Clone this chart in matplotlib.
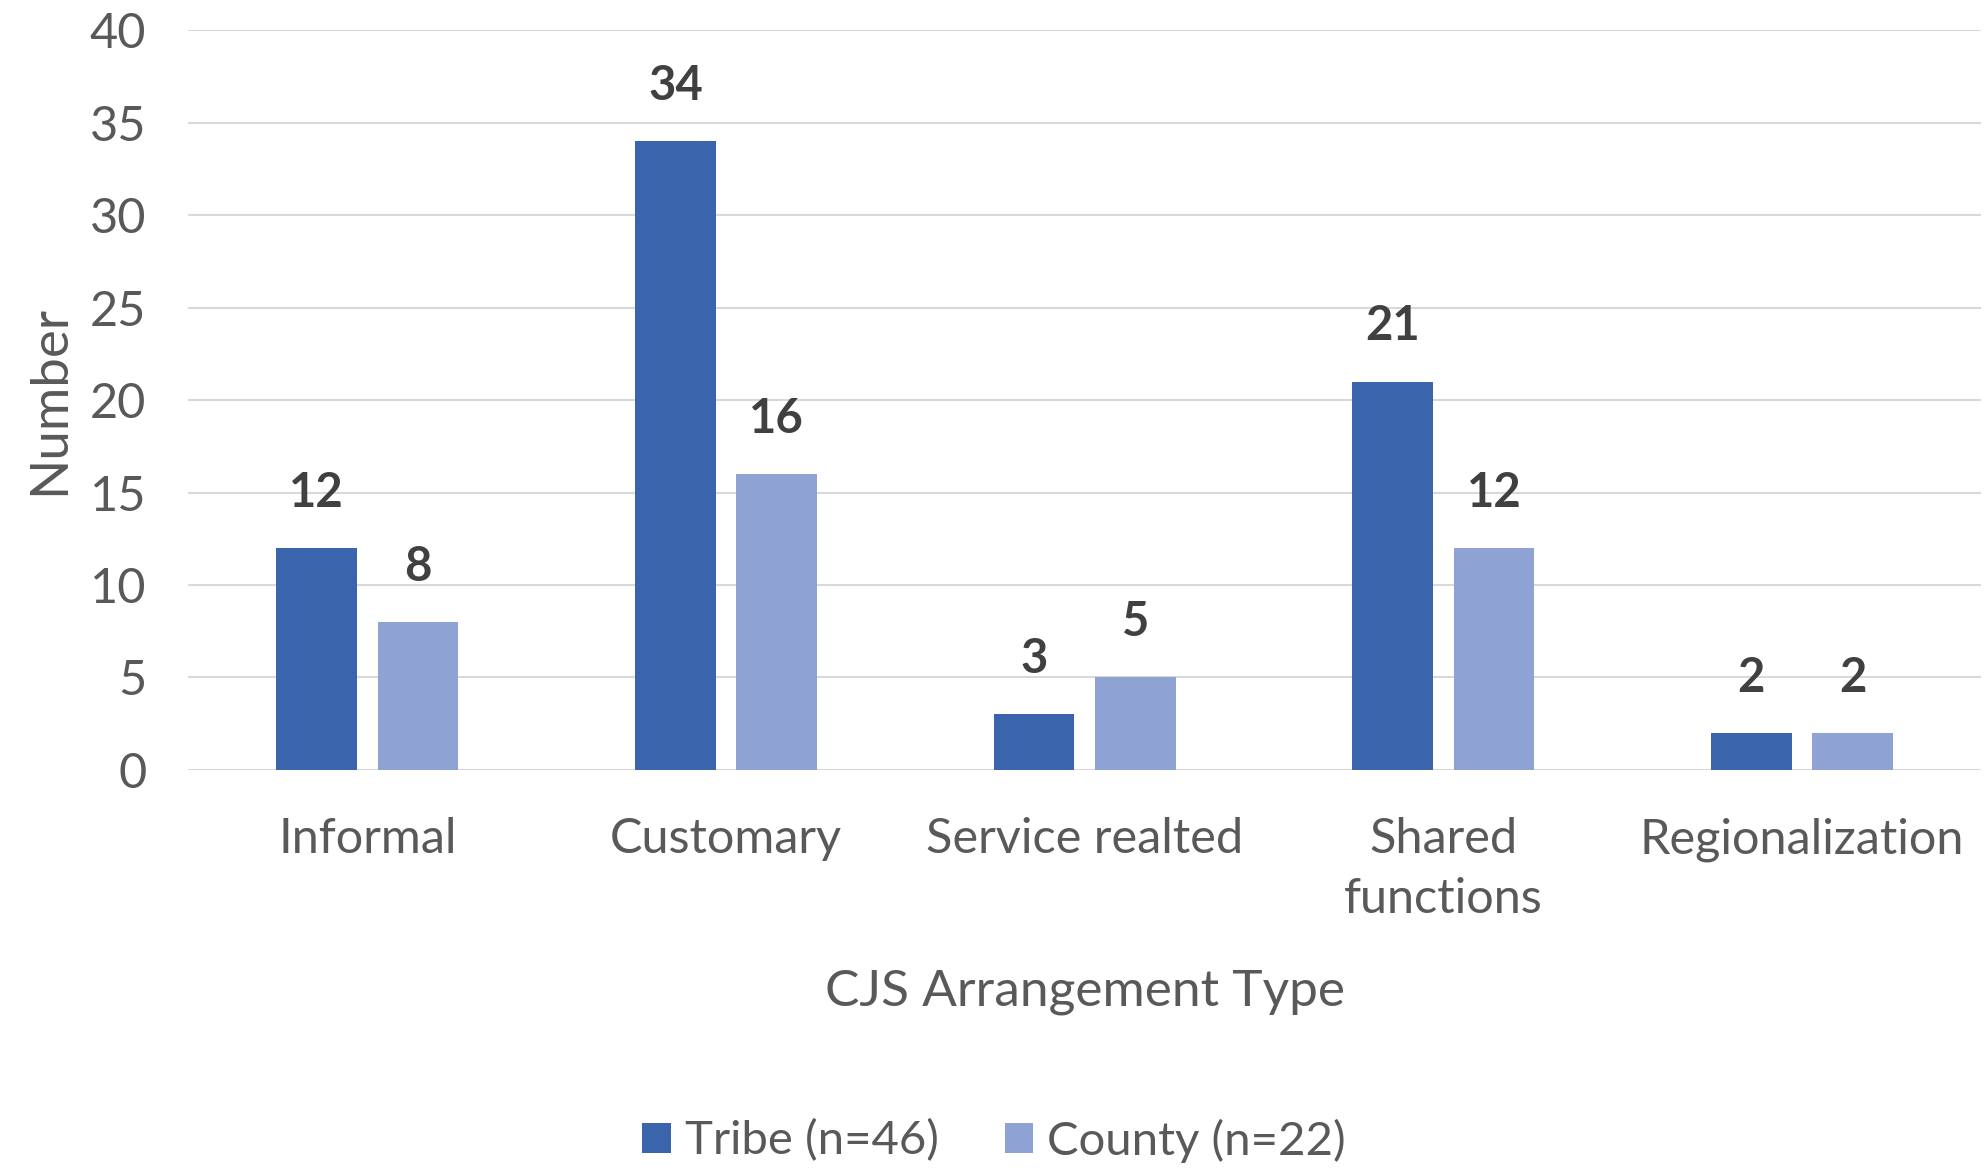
import matplotlib.pyplot as plt
import numpy as np

plt.rcParams['font.family'] = ['Lato', 'DejaVu Sans']

categories = ['Informal', 'Customary', 'Service realted', 'Shared\nfunctions', 'Regionalization']
tribe = [12, 34, 3, 21, 2]
county = [8, 16, 5, 12, 2]
series_names = ['Tribe (n=46)', 'County (n=22)']
yticks = [0, 5, 10, 15, 20, 25, 30, 35, 40]

TRIBE_C = '#3A64AC'
COUNTY_C = '#8FA2D4'
TXT = '#595959'

fig = plt.figure(figsize=(19.88, 11.7), dpi=100)
ax = fig.add_axes([0.0946, 0.342, 0.902, 0.632])

x = np.arange(len(categories))
w = 0.225
off = 0.141
b1 = ax.bar(x - off, tribe, w, color=TRIBE_C, label=series_names[0], zorder=3)
b2 = ax.bar(x + off, county, w, color=COUNTY_C, label=series_names[1], zorder=3)

for bars in (b1, b2):
    ax.bar_label(bars, padding=24, fontsize=34, fontweight='bold', color='#404040')

ax.set_xlim(-0.5, len(categories) - 0.5)
ax.set_ylim(0, 40)
ax.set_yticks(yticks)
ax.grid(axis='y', color='#D9D9D9', linewidth=1.5, zorder=0)
for s in ax.spines.values():
    s.set_visible(False)
ax.set_xticks(x)
ax.set_xticklabels(categories, linespacing=1.45)
ax.tick_params(axis='both', length=0, labelsize=35, colors=TXT)
ax.tick_params(axis='x', pad=34)
ax.tick_params(axis='y', pad=30)

ax.set_xlabel('CJS Arrangement Type', fontsize=37, color=TXT, labelpad=34)
ax.set_ylabel('Number', fontsize=38, color=TXT, labelpad=12)

fig.legend(loc='lower center', bbox_to_anchor=(0.5, -0.03), ncol=2, frameon=False,
           fontsize=34, labelcolor=TXT, handlelength=0.6, handleheight=0.6,
           handletextpad=0.3, columnspacing=1.4)

fig.savefig('out.png', dpi=100)
